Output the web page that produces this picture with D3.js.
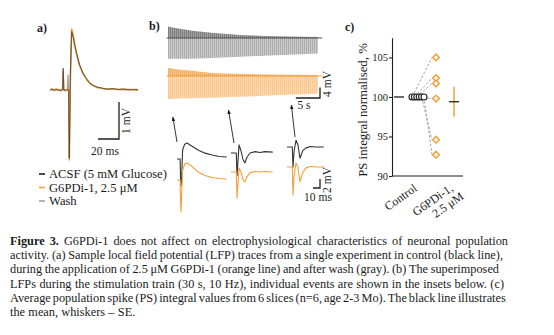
<!DOCTYPE html>
<html>
<head>
<meta charset="utf-8">
<script src="https://cdn.jsdelivr.net/npm/d3@7"></script>
<style>
  body { margin: 0; background: #fff; }
  text { font-family: "Liberation Serif", "DejaVu Serif", serif; fill: #1b1b1b; }
</style>
</head>
<body>
<div id="chart"></div>
<script>
// ---------- data ----------
// a) single LFP, time ms, amplitude mV
var tA     = [0, 2, 4, 6, 8, 10, 12, 12.6, 13.2, 15, 16.6, 17.2, 17.8, 18.4, 19.6, 20.7, 22, 23.5, 25.4, 28, 31.4, 35, 38, 41, 44.8, 50, 55, 60, 65, 70, 75, 80, 84];
var acsfA  = [0, 0.03, -0.02, 0.02, 0, -0.03, 0, 0.59, 0, -0.02, 0, 0.02, 0, -1.85, 0.6, 1.58, 1.45, 1.22, 1.0, 0.7, 0.46, 0.3, 0.19, 0.13, 0.08, 0.05, 0.02, 0.04, 0.01, 0.03, 0, 0.02, 0.01];
var g6pdiA = [0.01, 0.02, 0, 0.03, -0.01, 0, 0.01, 0.5, 0, 0, 0.01, 0, -0.02, -1.89, 0.5, 1.65, 1.5, 1.25, 0.98, 0.68, 0.44, 0.28, 0.18, 0.12, 0.07, 0.04, 0.03, 0.02, 0.02, 0.01, 0.02, 0, 0];
var washA  = [0, 0.01, 0.02, 0, 0.01, 0, 0, 0.05, 0, 0, 0.02, 0.4, 0, -1.8, 0.55, 1.6, 1.47, 1.2, 0.97, 0.69, 0.45, 0.29, 0.18, 0.12, 0.08, 0.04, 0.03, 0.03, 0.01, 0.02, 0.01, 0.01, 0];
var legendA = ["ACSF (5 mM Glucose)", "G6PDi-1, 2.5 μM", "Wash"];

// b) stimulation train envelope, time s, mV
var tB        = [0, 1, 2.5, 5, 9, 15, 20, 25, 31];
var acsfTop   = [4.4, 4.0, 3.6, 2.8, 2.0, 1.2, 0.8, 0.6, 0.4];
var acsfBot   = [-8.0, -8.0, -8.0, -8.0, -7.7, -7.2, -6.8, -6.4, -6.0];
var g6Top     = [3.2, 2.8, 2.4, 2.0, 1.2, 0.8, 0.6, 0.5, 0.4];
var g6Bot     = [-8.8, -8.8, -8.7, -8.6, -8.4, -8.0, -7.6, -7.2, -6.8];
var eventT    = [1, 12.5, 25.5];

// b) insets, time ms from stimulus, mV
var tIns1    = [-5, -0.5, 0, 0.7, 1.5, 3, 6, 9.3, 16, 25, 35, 45, 55, 66];
var ins1Acsf = [0, 0, -4, -6, -5, 2, 3.3, 3.55, 2.9, 2.0, 1.3, 0.9, 0.55, 0.45];
var ins1G6   = [0, 0, -4, -7.1, -4, 2.2, 3.55, 3.8, 3.1, 1.8, 1.0, 0.55, 0.33, 0.22];
var tIns2    = [-8.6, -1, 0, 2.9, 5.7, 8.6, 11.4, 14, 18.6, 26, 33, 40, 51];
var ins2Acsf = [0, 0, -5, 1.8, 0.5, -1.5, -2.2, -1.0, 0, 0.3, 0.1, 0.3, 0.2];
var ins2G6   = [0, 0, -5.8, 0.9, 0, -1.8, -2.2, -1.1, -0.2, 0.1, 0, 0.1, 0];
var tIns3    = [-8.6, -1, 0, 1.5, 4.3, 7, 10, 14, 18.6, 25, 33, 44];
var ins3Acsf = [0, 0, -4.5, -1, 1.5, 0.5, -2.5, -0.8, -0.2, 0.1, 0, 0];
var ins3G6   = [0, 0, -6.2, -2, 0.9, 0, -3.3, -1.2, -0.2, 0.1, 0, 0];

// c) PS integral normalised, %
var groups    = ["Control", "G6PDi-1,"];
var groupSub  = ["", "2.5 μM"];
var psControl = [100, 100, 100, 100, 100, 100];
var psG6      = [105.0, 102.4, 101.7, 99.8, 94.6, 92.7];
var psMean    = [100, 99.4];
var psSE      = [0, 1.9];
var yTicksC   = [90, 95, 100, 105];

var caption = [
  ["Figure 3.", "G6PDi-1 does not affect on electrophysiological characteristics of neuronal population"],
  ["", "activity. (a) Sample local field potential (LFP) traces from a single experiment in control (black line),"],
  ["", "during the application of 2.5 μM G6PDi-1 (orange line) and after wash (gray). (b) The superimposed"],
  ["", "LFPs during the stimulation train (30 s, 10 Hz), individual events are shown in the insets below. (c)"],
  ["", "Average population spike (PS) integral values from 6 slices (n=6, age 2-3 Mo). The black line illustrates"],
  ["", "the mean, whiskers – SE."]
];

var black = "#1e1e1e", orange = "#f4a03a", gray = "#a3a3a3";

var svg = d3.select("#chart").append("svg")
    .attr("width", 554)
    .attr("height", 335);

function lbl(x, y, s) {
    svg.append("text").attr("x", x).attr("y", y)
        .attr("font-size", 12).attr("font-weight", "bold").text(s);
}
lbl(37, 32, "a)");
lbl(149, 30, "b)");
lbl(345, 31, "c)");

// ---------- a ----------
var xA = d3.scaleLinear().domain([0, 84]).range([50, 138]);
var yA = d3.scaleLinear().domain([0, 1]).range([90, 53]);
var pa = svg.append("g");

function addTrace(g, xs, vs, x, y, col, sw, op) {
    g.append("path")
        .datum(d3.zip(xs, vs))
        .attr("fill", "none")
        .attr("stroke", col)
        .attr("stroke-width", sw)
        .attr("stroke-opacity", op || 1)
        .attr("stroke-linejoin", "round")
        .attr("d", d3.line().x(d => x(d[0])).y(d => y(d[1])));
}
addTrace(pa, tA, washA, xA, yA, gray, 1.3);
addTrace(pa, tA, g6pdiA, xA, yA, orange, 1.5);
addTrace(pa, tA, acsfA, xA, yA, "#3a3a3a", 1, 0.75);

// scale bar a: 20 ms, 1 mV
var cA = [119, 139];
pa.append("path")
    .attr("d", "M" + (cA[0] - (xA(20) - xA(0))) + "," + cA[1] + "H" + cA[0] + "V" + (cA[1] - (yA(0) - yA(1))))
    .attr("fill", "none").attr("stroke", black).attr("stroke-width", 1.3);
pa.append("text").attr("x", 105).attr("y", 155).attr("text-anchor", "middle")
    .attr("font-size", 11.5).text("20 ms");
pa.append("text").attr("transform", "translate(130,121) rotate(-90)").attr("text-anchor", "middle")
    .attr("font-size", 11.5).text("1 mV");

var legCols = [black, orange, gray];
legendA.forEach(function(s, i) {
    var y = 174 + i * 13.5;
    pa.append("line").attr("x1", 39).attr("x2", 45).attr("y1", y).attr("y2", y)
        .attr("stroke", legCols[i]).attr("stroke-width", 1.6);
    pa.append("text").attr("x", 49).attr("y", y + 4).attr("font-size", 12.6).text(s);
});

// ---------- b ----------
var defs = svg.append("defs");
function stripes(id, bg, fg) {
    var p = defs.append("pattern").attr("id", id).attr("patternUnits", "userSpaceOnUse")
        .attr("width", 2).attr("height", 4);
    p.append("rect").attr("width", 2).attr("height", 4).attr("fill", bg);
    p.append("rect").attr("width", 1).attr("height", 4).attr("fill", fg);
}
stripes("kTop", "#a4a4a4", "#7c7c7c");
stripes("kBot", "#cbcbcb", "#adadad");
stripes("oTop", "#f8c386", "#f4ae60");
stripes("oBot", "#fcdab2", "#f9c790");

var xB = d3.scaleLinear().domain([0, 31]).range([168, 318]);
var yBk = d3.scaleLinear().domain([0, 1]).range([38, 35.4]);
var yBo = d3.scaleLinear().domain([0, 1]).range([76, 73.4]);
var pb = svg.append("g");

function band(top, bot, y, fillTop, fillBot, lineCol) {
    var rows = tB.map((t, i) => ({t: t, top: top[i], bot: bot[i]}));
    pb.append("path").datum(rows).attr("fill", fillBot)
        .attr("d", d3.area().x(d => xB(d.t)).y0(y(0)).y1(d => y(d.bot)));
    pb.append("path").datum(rows).attr("fill", fillTop)
        .attr("d", d3.area().x(d => xB(d.t)).y0(y(0)).y1(d => y(d.top)));
    pb.append("line").attr("x1", xB(-0.3)).attr("x2", xB(31.9))
        .attr("y1", y(0)).attr("y2", y(0))
        .attr("stroke", lineCol).attr("stroke-width", 0.9);
}
band(acsfTop, acsfBot, yBk, "url(#kTop)", "url(#kBot)", "#444");
band(g6Top, g6Bot, yBo, "url(#oTop)", "url(#oBot)", "#ec9430");

// scale bar b: 5 s, 4 mV
var cB = [320, 98];
pb.append("path")
    .attr("d", "M" + (cB[0] - (xB(5) - xB(0))) + "," + cB[1] + "H" + cB[0] + "V" + (cB[1] - (yBk(0) - yBk(4))))
    .attr("fill", "none").attr("stroke", black).attr("stroke-width", 1.3);
pb.append("text").attr("x", 304).attr("y", 109).attr("text-anchor", "middle")
    .attr("font-size", 11.5).text("5 s");
pb.append("text").attr("transform", "translate(331,84) rotate(-90)").attr("text-anchor", "middle")
    .attr("font-size", 11.5).text("4 mV");

// insets
var xIk = 0.7, yIk = 4.5;   // px per ms, px per mV
var insets = [
    {t: tIns1, a: ins1Acsf, g: ins1G6, x0: 180.5, yk: 159, yo: 180, tail: [177, 142], tip: 117},
    {t: tIns2, a: ins2Acsf, g: ins2G6, x0: 237, yk: 153, yo: 172, tail: [234, 143], tip: 110},
    {t: tIns3, a: ins3Acsf, g: ins3G6, x0: 293, yk: 147, yo: 167, tail: [295, 137], tip: 105}
];
defs.append("marker").attr("id", "arr").attr("viewBox", "0 0 10 10")
    .attr("refX", 9).attr("refY", 5).attr("markerWidth", 5).attr("markerHeight", 6)
    .attr("orient", "auto")
    .append("path").attr("d", "M0,1L10,5L0,9Z").attr("fill", black);

insets.forEach(function(ins, i) {
    var xi = d3.scaleLinear().domain([0, 1]).range([ins.x0, ins.x0 + xIk]);
    var yk = d3.scaleLinear().domain([0, 1]).range([ins.yk, ins.yk - yIk]);
    var yo = d3.scaleLinear().domain([0, 1]).range([ins.yo, ins.yo - yIk]);
    addTrace(pb, ins.t, ins.a, xi, yk, "#333", 1.1);
    addTrace(pb, ins.t, ins.g, xi, yo, orange, 1.1);
    pb.append("line")
        .attr("x1", ins.tail[0]).attr("y1", ins.tail[1])
        .attr("x2", xB(eventT[i])).attr("y2", ins.tip)
        .attr("stroke", black).attr("stroke-width", 0.9)
        .attr("marker-end", "url(#arr)");
});

// inset scale bar: 10 ms, 2 mV
var cI = [320, 188];
pb.append("path")
    .attr("d", "M" + (cI[0] - 10 * xIk) + "," + cI[1] + "H" + cI[0] + "V" + (cI[1] - 2 * yIk))
    .attr("fill", "none").attr("stroke", black).attr("stroke-width", 1.3);
pb.append("text").attr("x", 318).attr("y", 201).attr("text-anchor", "middle")
    .attr("font-size", 11.5).text("10 ms");
pb.append("text").attr("transform", "translate(331,180) rotate(-90)").attr("text-anchor", "middle")
    .attr("font-size", 11.5).text("2 mV");

// ---------- c ----------
var yC = d3.scaleLinear().domain([90, 107.5]).range([176, 37.7]);
var xC = d3.scalePoint().domain(groups).range([418, 436]);
var pc = svg.append("g");

pc.append("g")
    .attr("transform", "translate(392,0)")
    .call(d3.axisLeft(yC).tickValues(yTicksC).tickSize(3).tickSizeOuter(0).tickPadding(1))
    .call(g => g.selectAll("text").attr("font-size", 10.5).attr("font-family", "Liberation Serif").attr("fill", "#1b1b1b"))
    .call(g => g.selectAll("line,path").attr("stroke", black).attr("stroke-width", 1.1));
pc.append("line").attr("x1", 392).attr("x2", 463).attr("y1", yC(90)).attr("y2", yC(90))
    .attr("stroke", black).attr("stroke-width", 1.1);

pc.append("text").attr("transform", "translate(367,110) rotate(-90)").attr("text-anchor", "middle")
    .attr("font-size", 12.8).text("PS integral normalised, %");

var xc0 = xC(groups[0]), xc1 = xC(groups[1]);
function jitter(i) { return xc0 + (i - 2.5) * 2.4; }

// paired lines
psG6.forEach(function(v, i) {
    pc.append("line")
        .attr("x1", jitter(i)).attr("y1", yC(psControl[i]))
        .attr("x2", xc1 - 4).attr("y2", yC(v))
        .attr("stroke", "#9a9a9a").attr("stroke-width", 0.9).attr("stroke-dasharray", "2.5,1.8");
});
psControl.forEach(function(v, i) {
    pc.append("circle").attr("cx", jitter(i)).attr("cy", yC(v)).attr("r", 3)
        .attr("fill", "#fff").attr("stroke", black).attr("stroke-width", 1.1);
});
psG6.forEach(function(v) {
    pc.append("path")
        .attr("transform", "translate(" + xc1 + "," + yC(v) + ") rotate(45)")
        .attr("d", d3.symbol(d3.symbolSquare, 22)())
        .attr("fill", "#fff").attr("stroke", orange).attr("stroke-width", 1.5);
});

// mean and SE
var meanX = [xc0 - 19, xc1 + 18];
psMean.forEach(function(m, i) {
    if (psSE[i] > 0) {
        pc.append("line").attr("x1", meanX[i]).attr("x2", meanX[i])
            .attr("y1", yC(m + psSE[i])).attr("y2", yC(m - psSE[i]))
            .attr("stroke", orange).attr("stroke-width", 1.5);
    }
    pc.append("line").attr("x1", meanX[i] - 5).attr("x2", meanX[i] + 5)
        .attr("y1", yC(m)).attr("y2", yC(m))
        .attr("stroke", black).attr("stroke-width", 1.3);
});

// x labels
groups.forEach(function(gname, i) {
    var t = pc.append("text")
        .attr("transform", "translate(" + (xC(gname) + (i ? 18 : 0)) + "," + (i ? 190 : 190) + ") rotate(-35)")
        .attr("text-anchor", "end").attr("font-size", 12);
    t.append("tspan").attr("x", 0).text(gname);
    if (groupSub[i]) t.append("tspan").attr("x", 4).attr("dy", "1.05em").text(groupSub[i]);
});

// ---------- caption ----------
var capW = [498, 493, 489, 494, 489];
var capG = svg.append("g").attr("font-size", 12.3);
caption.forEach(function(line, li) {
    var y = 245 + li * 14.2;
    var words = [];
    if (line[0]) line[0].split(" ").forEach(w => words.push({w: w, b: true}));
    line[1].split(" ").forEach(w => words.push({w: w, b: false}));
    var nodes = words.map(function(d) {
        return capG.append("text").attr("y", y)
            .attr("font-weight", d.b ? "bold" : "normal").text(d.w);
    });
    var widths = nodes.map(n => n.node().getComputedTextLength());
    var total = d3.sum(widths);
    var gap = li < capW.length ? (capW[li] - total) / (words.length - 1) : 3.3;
    gap = Math.max(gap, 2);
    var x = 10;
    nodes.forEach(function(n, i) {
        n.attr("x", x);
        x += widths[i] + gap;
    });
});
</script>
</body>
</html>
